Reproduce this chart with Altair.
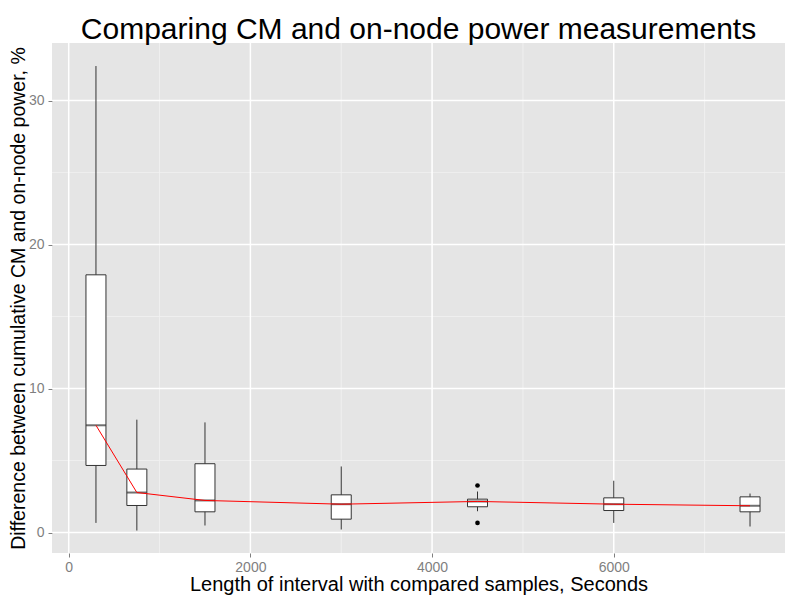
import altair as alt
import pandas as pd

# data
interval_s = [300, 750, 1500, 3000, 4500, 6000, 7500]
whisk_low = [0.67, 0.14, 0.49, 0.21, 1.48, 0.67, 0.42]
q1 = [4.66, 1.88, 1.44, 0.93, 1.79, 1.53, 1.44]
median = [7.45, 2.78, 2.23, 1.97, 2.16, 1.97, 1.86]
q3 = [17.9, 4.41, 4.78, 2.62, 2.32, 2.41, 2.48]
whisk_high = [32.4, 7.84, 7.65, 4.59, 2.85, 3.6, 2.71]

outlier_x = [4500, 4500]
outlier_y = [3.27, 0.67]

x_major = [0, 2000, 4000, 6000]
x_minor = [1000, 3000, 5000, 7000]
y_major = [0, 10, 20, 30]
y_minor = [5, 15, 25]

box = pd.DataFrame({"x": interval_s, "lo": whisk_low, "q1": q1, "med": median,
                    "q3": q3, "hi": whisk_high})
outl = pd.DataFrame({"x": outlier_x, "y": outlier_y})

xs = alt.Scale(domain=[-184, 7885], nice=False, zero=False, padding=0)
ys = alt.Scale(domain=[-1.42, 34.0], nice=False, zero=False, padding=0)

GRID = "#333333"
FONT = "Liberation Sans"

x_axis = alt.Axis(values=x_major, format="d", grid=False, domain=False, tickColor="#7F7F7F",
                  tickSize=4, labelColor="#7F7F7F", labelFontSize=14, labelPadding=3,
                  titleFontSize=20, titleColor="black", titleFontWeight="normal",
                  titlePadding=0, labelFont=FONT, titleFont=FONT)
y_axis = alt.Axis(values=y_major, format="d", grid=False, domain=False, tickColor="#7F7F7F",
                  tickSize=4, labelColor="#7F7F7F", labelFontSize=14, labelPadding=4,
                  titleFontSize=19.5, titleColor="black", titleFontWeight="normal",
                  titlePadding=0, labelFont=FONT, titleFont=FONT)

xt = "Length of interval with compared samples, Seconds"
yt = "Difference between cumulative CM and on-node power, %"


def X(field):
    return alt.X(field, scale=xs, axis=x_axis, title=xt)


def Y(field):
    return alt.Y(field, scale=ys, axis=y_axis, title=yt)


minor_vx = alt.Chart(pd.DataFrame({"v": x_minor})).mark_rule(color="#F2F2F2", strokeWidth=0.8).encode(
    x=X("v:Q"))
minor_hy = alt.Chart(pd.DataFrame({"v": y_minor})).mark_rule(color="#F2F2F2", strokeWidth=0.8).encode(
    y=Y("v:Q"))
major_vx = alt.Chart(pd.DataFrame({"v": x_major})).mark_rule(color="white", strokeWidth=1.5).encode(
    x=X("v:Q"))
major_hy = alt.Chart(pd.DataFrame({"v": y_major})).mark_rule(color="white", strokeWidth=1.5).encode(
    y=Y("v:Q"))

base = alt.Chart(box)
whisk = base.mark_rule(color=GRID, strokeWidth=1).encode(
    x=X("x:Q"), y=Y("lo:Q"), y2="hi:Q")
boxes = base.mark_bar(fill="white", stroke=GRID, strokeWidth=1, size=20).encode(
    x=X("x:Q"), y=Y("q1:Q"), y2="q3:Q")
meds = base.mark_tick(color=GRID, orient="horizontal", size=20, thickness=2).encode(
    x=X("x:Q"), y=Y("med:Q"))
pts = alt.Chart(outl).mark_circle(color="black", size=22, opacity=1).encode(
    x=X("x:Q"), y=Y("y:Q"))
line = base.mark_line(color="#FF0000", strokeWidth=1).encode(
    x=X("x:Q"), y=Y("med:Q"))

chart = alt.layer(minor_vx, minor_hy, major_vx, major_hy, whisk, boxes, meds, pts, line).properties(
    width=733, height=510,
    autosize=alt.AutoSizeParams(type="none"),
    padding={"left": 44, "top": 35, "right": 7, "bottom": 42},
    title=alt.TitleParams("Comparing CM and on-node power measurements", fontSize=30,
                          font=FONT, fontWeight="normal", color="black",
                          anchor="middle", frame="group", offset=-3),
).configure_view(fill="#E5E5E5", stroke=None)

chart.save("out.html", embed_options={"renderer": "svg", "actions": False})
